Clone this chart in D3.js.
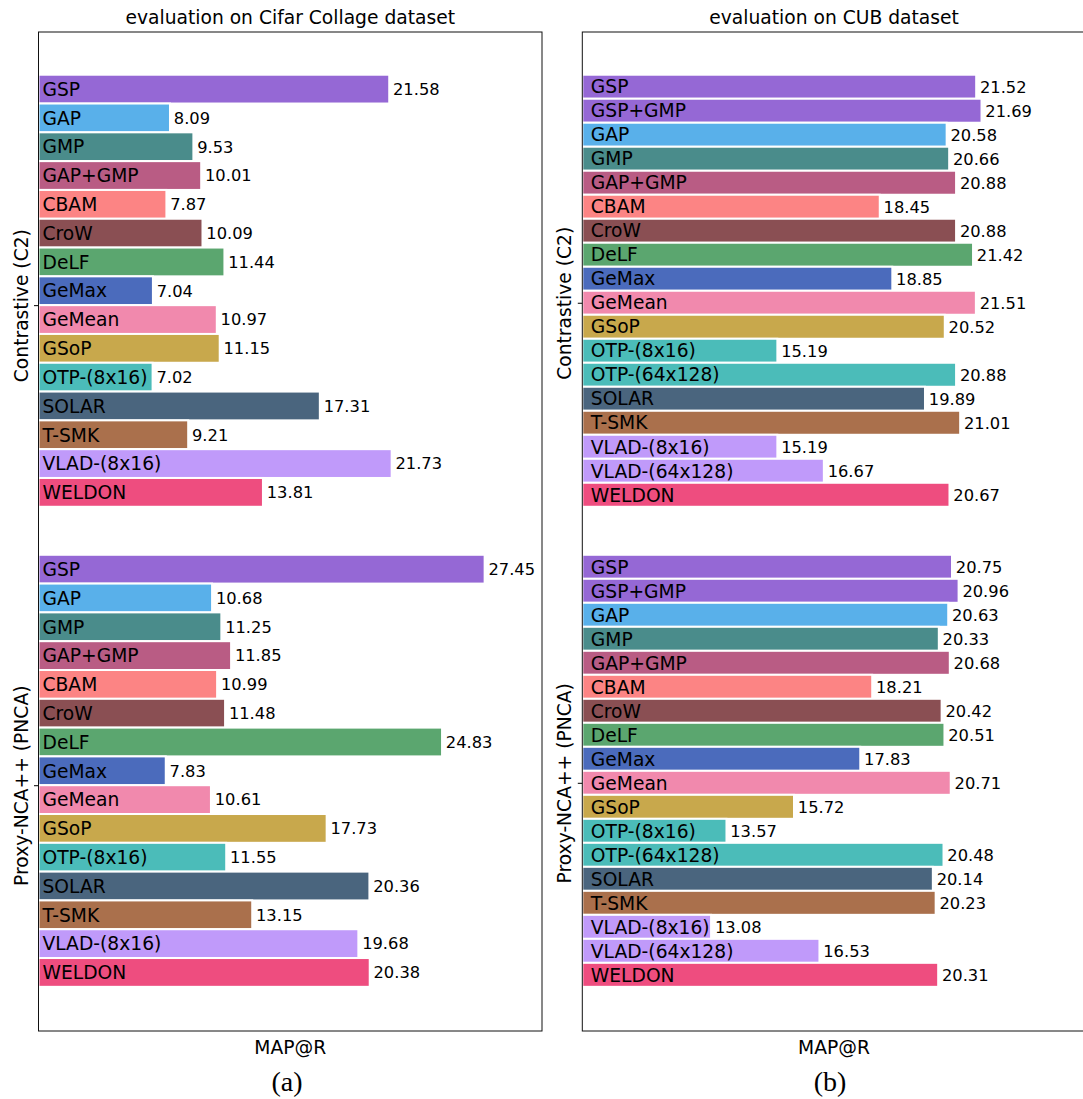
<!DOCTYPE html>
<html>
<head>
<meta charset="utf-8">
<script src="https://cdn.jsdelivr.net/npm/d3@7"></script>
<style>
  html, body { margin: 0; padding: 0; background: #fff; }
  svg { display: block; font-family: "DejaVu Sans", sans-serif; }
</style>
</head>
<body>
<svg id="chart" width="1083" height="1099"></svg>
<script>
// ---- data -------------------------------------------------------------
const groupLabels = ["Contrastive (C2)", "Proxy-NCA++ (PNCA)"];

const cifarMethods = ["GSP", "GAP", "GMP", "GAP+GMP", "CBAM", "CroW", "DeLF", "GeMax",
  "GeMean", "GSoP", "OTP-(8x16)", "SOLAR", "T-SMK", "VLAD-(8x16)", "WELDON"];
const cifarContrastive = [21.58, 8.09, 9.53, 10.01, 7.87, 10.09, 11.44, 7.04,
  10.97, 11.15, 7.02, 17.31, 9.21, 21.73, 13.81];
const cifarProxy = [27.45, 10.68, 11.25, 11.85, 10.99, 11.48, 24.83, 7.83,
  10.61, 17.73, 11.55, 20.36, 13.15, 19.68, 20.38];

const cubMethods = ["GSP", "GSP+GMP", "GAP", "GMP", "GAP+GMP", "CBAM", "CroW", "DeLF",
  "GeMax", "GeMean", "GSoP", "OTP-(8x16)", "OTP-(64x128)", "SOLAR", "T-SMK",
  "VLAD-(8x16)", "VLAD-(64x128)", "WELDON"];
const cubContrastive = [21.52, 21.69, 20.58, 20.66, 20.88, 18.45, 20.88, 21.42,
  18.85, 21.51, 20.52, 15.19, 20.88, 19.89, 21.01, 15.19, 16.67, 20.67];
const cubProxy = [20.75, 20.96, 20.63, 20.33, 20.68, 18.21, 20.42, 20.51,
  17.83, 20.71, 15.72, 13.57, 20.48, 20.14, 20.23, 13.08, 16.53, 20.31];

const panelTitles = ["evaluation on Cifar Collage dataset", "evaluation on CUB dataset"];
const xLabel = "MAP@R";
const captions = ["(a)", "(b)"];

// ---- colours per pooling method ------------------------------------------
const methodColor = {
  "GSP": "#9568d5", "GSP+GMP": "#9568d5",
  "GAP": "#59b0ea",
  "GMP": "#4a8c8b",
  "GAP+GMP": "#b95c84",
  "CBAM": "#fc8484",
  "CroW": "#8a4f53",
  "DeLF": "#5ba66f",
  "GeMax": "#4b6bbc",
  "GeMean": "#f189ad",
  "GSoP": "#c8a84c",
  "OTP-(8x16)": "#4bbcb9", "OTP-(64x128)": "#4bbcb9",
  "SOLAR": "#4a657e",
  "T-SMK": "#aa704c",
  "VLAD-(8x16)": "#c09afa", "VLAD-(64x128)": "#c09afa",
  "WELDON": "#ee4d7f"
};

// ---- layout -------------------------------------------------------------
const plotTop = 32, plotBottom = 1031;
const panels = [
  { title: panelTitles[0], caption: captions[0], methods: cifarMethods,
    groups: [cifarContrastive, cifarProxy],
    left: 38.5, width: 503.5, xDomain: [0, 30.98], labelShift: 4, captionX: 287 },
  { title: panelTitles[1], caption: captions[1], methods: cubMethods,
    groups: [cubContrastive, cubProxy],
    left: 582.3, width: 503.5, xDomain: [8.98, 25.01], labelShift: 8.5, captionX: 830 }
];

const svg = d3.select("#chart");
const catSize = 18.7, valSize = 16.3;

panels.forEach(p => {
  const g = svg.append("g");
  const x = d3.scaleLinear().domain(p.xDomain).range([p.left, p.left + p.width]);
  const y = d3.scaleLinear().domain([-0.089, 1.992]).range([plotTop, plotBottom]);
  const n = p.methods.length;
  const step = 0.9 / n;

  const rows = [];
  p.groups.forEach((vals, gi) => {
    p.methods.forEach((m, i) => rows.push({ method: m, value: vals[i], pos: gi + i * step }));
  });

  // bars
  g.append("g").selectAll("rect").data(rows).join("rect")
    .attr("x", x(p.xDomain[0]))
    .attr("y", d => y(d.pos))
    .attr("width", d => x(d.value) - x(p.xDomain[0]))
    .attr("height", d => y(d.pos + step) - y(d.pos))
    .attr("fill", d => methodColor[d.method])
    .attr("stroke", "#fff")
    .attr("stroke-width", 2);

  // method names inside bars
  g.append("g").selectAll("text").data(rows).join("text")
    .attr("x", x(p.xDomain[0]) + p.labelShift)
    .attr("y", d => (y(d.pos) + y(d.pos + step)) / 2 + 0.36 * catSize)
    .attr("font-size", catSize)
    .attr("fill", "#000")
    .text(d => d.method);

  // values at bar ends
  g.append("g").selectAll("text").data(rows).join("text")
    .attr("x", d => x(d.value) + 3.8)
    .attr("y", d => (y(d.pos) + y(d.pos + step)) / 2 + 0.36 * valSize)
    .attr("font-size", valSize)
    .attr("fill", "#000")
    .text(d => d3.format(".2f")(d.value));

  // group ticks on the y axis
  const yAxis = d3.axisLeft(y)
    .tickValues(groupLabels.map((_, gi) => gi + (n / 2) * step + step / 2))
    .tickFormat((d, i) => groupLabels[i])
    .tickSize(4.5)
    .tickPadding(0);
  const ax = g.append("g").attr("transform", `translate(${p.left},0)`).call(yAxis);
  ax.select(".domain").remove();
  ax.selectAll(".tick line").attr("stroke", "#000").attr("stroke-width", 1);
  ax.selectAll(".tick text")
    .attr("transform", "rotate(-90)")
    .attr("x", 0).attr("y", -11).attr("dy", null)
    .attr("text-anchor", "middle")
    .attr("font-family", "DejaVu Sans, sans-serif")
    .attr("font-size", catSize)
    .attr("fill", "#000");

  // frame
  g.append("rect")
    .attr("x", p.left).attr("y", plotTop)
    .attr("width", p.width).attr("height", plotBottom - plotTop)
    .attr("fill", "none").attr("stroke", "#111").attr("stroke-width", 1);

  const cx = p.left + p.width / 2;
  g.append("text").attr("x", cx).attr("y", 24).attr("text-anchor", "middle")
    .attr("font-size", catSize).text(p.title);
  g.append("text").attr("x", cx).attr("y", 1054).attr("text-anchor", "middle")
    .attr("font-size", catSize).text(xLabel);
  g.append("text").attr("x", p.captionX).attr("y", 1091).attr("text-anchor", "middle")
    .attr("font-family", "Liberation Serif, serif")
    .attr("font-size", 28).text(p.caption);
});
</script>
</body>
</html>
